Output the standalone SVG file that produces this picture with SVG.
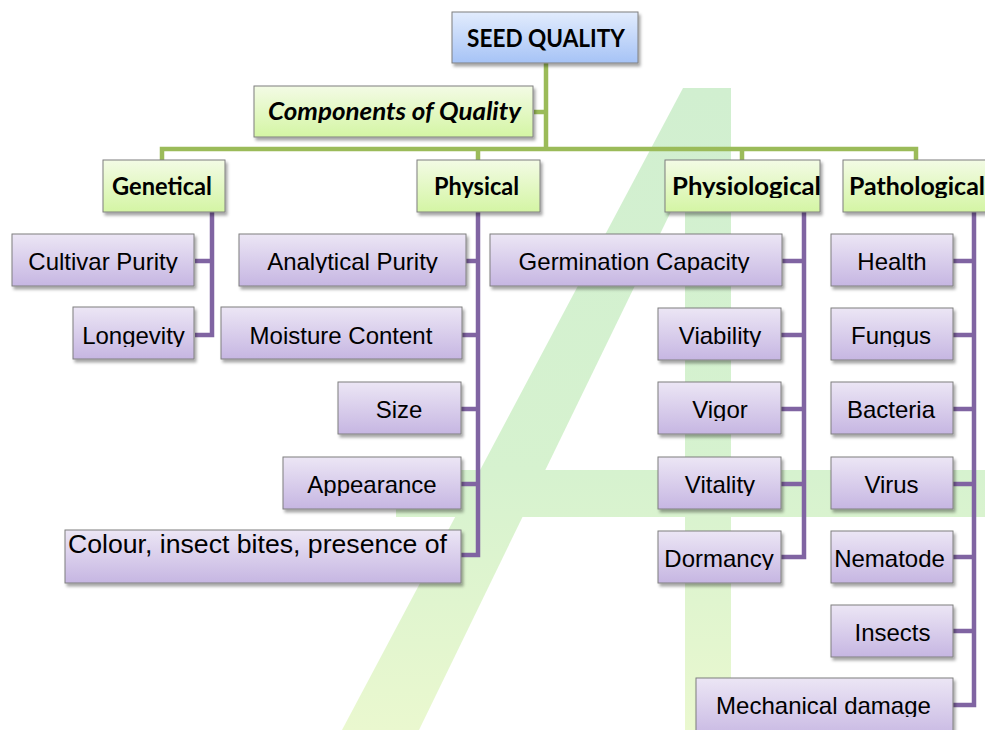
<svg xmlns="http://www.w3.org/2000/svg" width="985" height="730" viewBox="0 0 985 730">
  <defs>
    <linearGradient id="gBlue" x1="0" y1="0" x2="0" y2="1">
      <stop offset="0" stop-color="#e2ecfd"/>
      <stop offset="1" stop-color="#a6c3f6"/>
    </linearGradient>
    <linearGradient id="gGreen" x1="0" y1="0" x2="0" y2="1">
      <stop offset="0" stop-color="#f3fbe5"/>
      <stop offset="1" stop-color="#d4f5a4"/>
    </linearGradient>
    <linearGradient id="gPurple" x1="0" y1="0" x2="0" y2="1">
      <stop offset="0" stop-color="#ece6f5"/>
      <stop offset="1" stop-color="#c6b6e2"/>
    </linearGradient>
    <linearGradient id="gMark" gradientUnits="userSpaceOnUse" x1="0" y1="88" x2="0" y2="730">
      <stop offset="0" stop-color="#d1efd0"/>
      <stop offset="0.6" stop-color="#d6f2cf"/>
      <stop offset="1" stop-color="#eaf8cf"/>
    </linearGradient>
    <filter id="shadow" x="-10%" y="-20%" width="125%" height="150%">
      <feDropShadow dx="2" dy="3" stdDeviation="1.8" flood-color="#000" flood-opacity="0.35"/>
    </filter>
    <!-- descender cut-offs for each text row -->
    <clipPath id="cutComp"><rect x="0" y="0" width="985" height="123"/></clipPath>
    <clipPath id="cutHead"><rect x="0" y="0" width="985" height="198"/></clipPath>
    <clipPath id="cutR1"><rect x="0" y="0" width="985" height="273"/></clipPath>
    <clipPath id="cutR2"><rect x="0" y="0" width="985" height="347"/></clipPath>
    <clipPath id="cutR3"><rect x="0" y="0" width="985" height="421"/></clipPath>
    <clipPath id="cutR4"><rect x="0" y="0" width="985" height="496"/></clipPath>
    <clipPath id="cutR5"><rect x="0" y="0" width="985" height="570"/></clipPath>
    <clipPath id="cutR7"><rect x="0" y="0" width="985" height="717"/></clipPath>
  </defs>
  <style>
    .root { fill: url(#gBlue); stroke: #7f7f7f; stroke-width: 1; filter: url(#shadow); }
    .head { fill: url(#gGreen); stroke: #7f7f7f; stroke-width: 1; filter: url(#shadow); }
    .item { fill: url(#gPurple); stroke: #7f7f7f; stroke-width: 1; filter: url(#shadow); }
    .ht { font-family: Lato, "Open Sans", "DejaVu Sans", sans-serif; font-weight: 700; font-size: 24px; fill: #000; text-anchor: middle; }
    .rt { font-family: Lato, "Open Sans", "DejaVu Sans", sans-serif; font-weight: 700; font-size: 25px; fill: #000; text-anchor: middle; }
    .ct { font-family: Lato, "Open Sans", "DejaVu Sans", sans-serif; font-weight: 700; font-style: italic; font-size: 25px; fill: #000; text-anchor: middle; }
    .it { font-family: "Liberation Sans", Arial, sans-serif; font-size: 24px; fill: #000; text-anchor: middle; }
    .big { font-size: 26px; }
    .green { fill: none; stroke: #9bbb59; stroke-width: 4.5; }
    .purple { fill: none; stroke: #8064a2; stroke-width: 4.5; }
  </style>

  <rect width="985" height="730" fill="#ffffff"/>

  <!-- large pale numeral in the background -->
  <g id="backdrop" fill="url(#gMark)">
    <rect x="685" y="88" width="46" height="642"/>
    <polygon points="683,88 731,88 419,730 342,730"/>
    <rect x="396" y="470" width="589" height="47"/>
  </g>

  <!-- connectors -->
  <g id="connectors">
    <path class="green" d="M546 63 V149 M534 112 H546 M162 160 V149 H916 V160 M478 149 V160 M742 149 V160"/>
    <path class="purple" d="M212 212 V335 H195 M195 261 H212"/>
    <path class="purple" d="M478 212 V555 H461 M466 261 H478 M462 335 H478 M461 409 H478 M461 484 H478"/>
    <path class="purple" d="M804 212 V557 H781 M782 261 H804 M781 335 H804 M781 409 H804 M781 484 H804"/>
    <path class="purple" d="M974 212 V705 H953 M953 261 H974 M953 335 H974 M953 409 H974 M953 484 H974 M953 557 H974 M953 631 H974"/>
  </g>

  <g id="seed-quality">
    <rect class="root" x="452" y="12" width="186" height="51"/>
    <text class="rt" x="546" y="47" textLength="158" lengthAdjust="spacingAndGlyphs">SEED QUALITY</text>
  </g>
  <g id="components">
    <rect class="head" x="254" y="86" width="279" height="51"/>
    <text class="ct" x="394.5" y="120" textLength="253" lengthAdjust="spacingAndGlyphs" clip-path="url(#cutComp)">Components of Quality</text>
  </g>

  <g id="genetical">
    <rect class="head" x="103" y="160" width="122" height="52"/>
    <text class="ht" x="162" y="195" textLength="100" lengthAdjust="spacingAndGlyphs" clip-path="url(#cutHead)">Genetical</text>
  </g>
  <g id="physical">
    <rect class="head" x="417" y="160" width="123" height="52"/>
    <text class="ht" x="476.5" y="195" textLength="85" lengthAdjust="spacingAndGlyphs" clip-path="url(#cutHead)">Physical</text>
  </g>
  <g id="physiological">
    <rect class="head" x="665" y="160" width="155" height="52"/>
    <text class="ht" x="746.5" y="195" textLength="149" lengthAdjust="spacingAndGlyphs" clip-path="url(#cutHead)">Physiological</text>
  </g>
  <g id="pathological">
    <rect class="head" x="843" y="160" width="160" height="52"/>
    <text class="ht" x="917" y="195" textLength="136" lengthAdjust="spacingAndGlyphs" clip-path="url(#cutHead)">Pathological</text>
  </g>

  <!-- Genetical items -->
  <g id="cultivar-purity">
    <rect class="item" x="12" y="234" width="182" height="52"/>
    <text class="it" x="103" y="270" clip-path="url(#cutR1)">Cultivar Purity</text>
  </g>
  <g id="longevity">
    <rect class="item" x="73" y="307" width="121" height="52"/>
    <text class="it" x="133.5" y="344" clip-path="url(#cutR2)">Longevity</text>
  </g>

  <!-- Physical items -->
  <g id="analytical-purity">
    <rect class="item" x="239" y="234" width="227" height="52"/>
    <text class="it" x="352.5" y="270" clip-path="url(#cutR1)">Analytical Purity</text>
  </g>
  <g id="moisture-content">
    <rect class="item" x="221" y="307" width="241" height="52"/>
    <text class="it" x="341" y="344" clip-path="url(#cutR2)">Moisture Content</text>
  </g>
  <g id="size">
    <rect class="item" x="338" y="382" width="123" height="52"/>
    <text class="it" x="399" y="418" clip-path="url(#cutR3)">Size</text>
  </g>
  <g id="appearance">
    <rect class="item" x="283" y="457" width="178" height="52"/>
    <text class="it" x="372" y="493" clip-path="url(#cutR4)">Appearance</text>
  </g>
  <g id="colour">
    <rect class="item" x="65" y="530" width="396" height="53"/>
    <text class="it big" x="257.5" y="553" textLength="379" lengthAdjust="spacingAndGlyphs">Colour, insect bites, presence of</text>
  </g>

  <!-- Physiological items -->
  <g id="germination-capacity">
    <rect class="item" x="490" y="234" width="292" height="52"/>
    <text class="it" x="634" y="270" clip-path="url(#cutR1)">Germination Capacity</text>
  </g>
  <g id="viability">
    <rect class="item" x="658" y="308" width="123" height="52"/>
    <text class="it" x="720" y="344" clip-path="url(#cutR2)">Viability</text>
  </g>
  <g id="vigor">
    <rect class="item" x="658" y="382" width="123" height="52"/>
    <text class="it" x="720" y="418" clip-path="url(#cutR3)">Vigor</text>
  </g>
  <g id="vitality">
    <rect class="item" x="658" y="457" width="123" height="52"/>
    <text class="it" x="720" y="493" clip-path="url(#cutR4)">Vitality</text>
  </g>
  <g id="dormancy">
    <rect class="item" x="658" y="531" width="123" height="52"/>
    <text class="it" x="719" y="567" clip-path="url(#cutR5)">Dormancy</text>
  </g>

  <!-- Pathological items -->
  <g id="health">
    <rect class="item" x="831" y="234" width="122" height="52"/>
    <text class="it" x="892" y="270">Health</text>
  </g>
  <g id="fungus">
    <rect class="item" x="831" y="308" width="122" height="52"/>
    <text class="it" x="891" y="344" clip-path="url(#cutR2)">Fungus</text>
  </g>
  <g id="bacteria">
    <rect class="item" x="831" y="382" width="122" height="52"/>
    <text class="it" x="891" y="418">Bacteria</text>
  </g>
  <g id="virus">
    <rect class="item" x="831" y="457" width="122" height="52"/>
    <text class="it" x="891.5" y="493">Virus</text>
  </g>
  <g id="nematode">
    <rect class="item" x="831" y="531" width="122" height="52"/>
    <text class="it" x="889.5" y="567">Nematode</text>
  </g>
  <g id="insects">
    <rect class="item" x="831" y="605" width="122" height="52"/>
    <text class="it" x="892.5" y="641">Insects</text>
  </g>
  <g id="mechanical-damage">
    <rect class="item" x="696" y="678" width="257" height="62"/>
    <text class="it" x="823.5" y="714" clip-path="url(#cutR7)">Mechanical damage</text>
  </g>
</svg>
